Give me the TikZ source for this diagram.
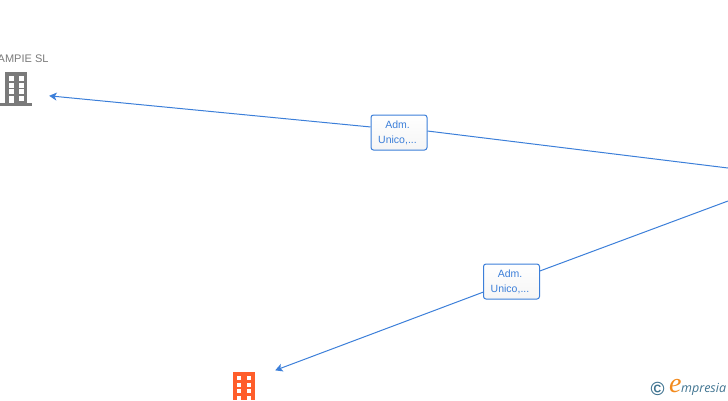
\documentclass[tikz,border=0pt]{standalone}
\usepackage{fontspec}
\setmainfont{Liberation Sans}
\newfontfamily\logofont{Open Sans}
\newfontfamily\swashfont{Liberation Serif}
\definecolor{linkblue}{HTML}{3C7FD9}
\definecolor{towergray}{HTML}{7A7A7A}
\definecolor{towerorange}{HTML}{FF5E2B}
\definecolor{logoteal}{HTML}{3F7390}
\definecolor{logoorange}{HTML}{F28A1E}
\newcommand{\rolename}{\rule{0pt}{8.8pt}Adm.\kern3pt\\Unico,...\kern3pt}
\usetikzlibrary{arrows.meta}
\tikzset{
	link/.style={linkblue,line width=1pt},
	linkarrow/.style={link,-{Stealth[length=7.5pt,width=8pt,inset=2pt]}},
	role/.style={draw=linkblue,line width=1pt,rounded corners=2.5pt,top color=white,bottom color=black!4,text=linkblue,
		minimum width=56pt,minimum height=35pt,inner sep=0pt,align=center,
		font=\fontsize{10.5}{15}\selectfont},
	target/.style={minimum width=68pt,minimum height=40pt,inner sep=0pt},
}
\begin{document}
\begin{tikzpicture}[x=1pt,y=-1pt]
	\useasboundingbox (0,0) rectangle (728,400);
	\clip (0,0) rectangle (728,400);
	\coordinate (hubtop) at (728,168);
	\coordinate (hubbottom) at (728,201);
	\node[target] (ampie) at (15,92.5) {};
	\node[target,minimum width=62pt,minimum height=30pt] (orange) at (244,382) {};
	\node[role] (admtop) at (399,132.5) {\rolename};
	\node[role] (admbottom) at (511.5,281.5) {\rolename};
	\draw[link] (hubtop) -- (admtop.3);
	\draw[linkarrow] (admtop.169) -- (ampie);
	\draw[link] (hubbottom) -- (admbottom);
	\draw[linkarrow] (admbottom) -- (orange);
	\node[anchor=east,text=towergray,font=\fontsize{11}{13}\selectfont] (ampiename) at (52,59) {AMPIE SL};
	% gray tower
	\fill[towergray] (5,72) rectangle (27,103);
	\fill[towergray] (0,103) rectangle (32,105.5);
	\foreach \y in {76,83,89} {
		\fill[white] (8.5,\y) rectangle (13.5,\y+4.5);
		\fill[white] (18.5,\y) rectangle (23.5,\y+4.5);
	}
	\fill[white] (8.5,96) rectangle (13.5,103);
	\fill[white] (18.5,96) rectangle (23.5,100.5);
	% orange tower
	\fill[towerorange] (233,372) rectangle (255,400);
	\foreach \y in {376,383,389,396} {
		\fill[white] (237,\y) rectangle (241,\y+4);
		\fill[white] (247,\y) rectangle (251,\y+4);
	}
	% logo
	\node[text=logoteal,font=\bfseries\fontsize{19}{19}\selectfont] (copymark) at (657.5,389) {©};
	\node[anchor=west,text=logoorange,inner sep=0pt,font=\swashfont\itshape\fontsize{28}{28}\selectfont] (logoe) at (669,386) {e};
	\node[anchor=west,text=logoteal,inner sep=0pt,font=\logofont\itshape\fontsize{12.5}{13}\selectfont] (logotext) at (681,389.5) {mpresia};
\end{tikzpicture}
\end{document}
